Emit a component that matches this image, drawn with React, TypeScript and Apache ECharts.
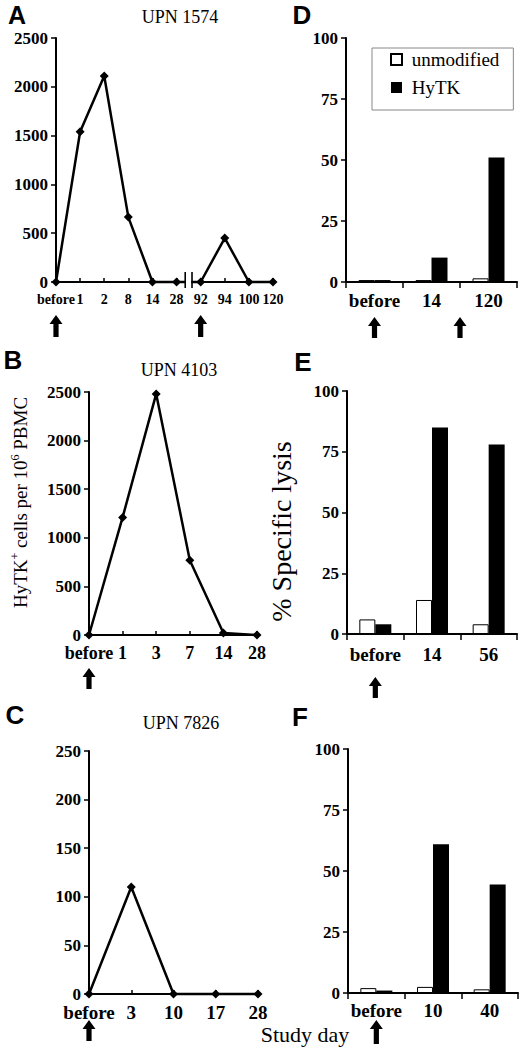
import React, { useEffect, useRef } from 'react';
import * as echarts from 'echarts';

// ---- data ----
const daysA = ['before', '1', '2', '8', '14', '28', '92', '94', '100', '120'];
const cellsA = [0, 1540, 2110, 665, 0, 0, 0, 450, 0, 0];
const daysB = ['before', '1', '3', '7', '14', '28'];
const cellsB = [0, 1210, 2480, 770, 20, 0];
const daysC = ['before', '3', '10', '17', '28'];
const cellsC = [0, 110, 0, 0, 0];

const daysD = ['before', '14', '120'];
const unmodD = [0.8, 0.8, 1.5];
const hytkD = [0.8, 10, 51];
const daysE = ['before', '14', '56'];
const unmodE = [6, 14, 4];
const hytkE = [4, 85, 78];
const daysF = ['before', '10', '40'];
const unmodF = [2, 2.5, 1.5];
const hytkF = [1, 61, 44.5];

// infusion arrows (category index positions; .5 = between two categories)
const arrowsA = [0, 6];
const arrowsB = [0];
const arrowsC = [0];
const arrowsD = [0, 1.5];
const arrowsE = [0];
const arrowsF = [0];

const serif = "'Liberation Serif', 'Times New Roman', serif";
const sans = "'Liberation Sans', Arial, sans-serif";

export default function App() {
  const ref = useRef<HTMLDivElement>(null);
  useEffect(() => {
    document.body.style.margin = '0';
    const chart = echarts.init(ref.current!, null, { renderer: 'svg' });

    const grids = [
      { left: 56, top: 38, width: 217, height: 244 },
      { left: 89, top: 392, width: 168, height: 243 },
      { left: 89, top: 751, width: 169, height: 243 },
      { left: 346, top: 38, width: 171, height: 244 },
      { left: 347, top: 391, width: 170, height: 243 },
      { left: 348, top: 749, width: 170, height: 244 },
    ];

    const lineX = (g: number, data: string[], fs: number, margin: number) => ({
      type: 'category', gridIndex: g, data, boundaryGap: false,
      axisLine: { lineStyle: { color: '#000', width: 2 } },
      axisTick: { show: true, inside: true, length: 4, lineStyle: { color: '#000', width: 1.5 } },
      axisLabel: { interval: 0, color: '#000', fontFamily: serif, fontWeight: 'bold', fontSize: fs, margin },
      splitLine: { show: false },
    });
    const barX = (g: number, data: string[], fs: number, margin: number) => ({
      type: 'category', gridIndex: g, data, boundaryGap: true,
      axisLine: { lineStyle: { color: '#000', width: 2 } },
      axisTick: { show: true, inside: false, length: 6, alignWithLabel: false, lineStyle: { color: '#000', width: 1.5 } },
      axisLabel: { interval: 0, color: '#000', fontFamily: serif, fontWeight: 'bold', fontSize: fs, margin },
      splitLine: { show: false },
    });
    const valY = (g: number, max: number, interval: number, fs: number, extra: any = {}) => ({
      type: 'value', gridIndex: g, min: 0, max, interval,
      axisLine: { show: true, lineStyle: { color: '#000', width: 2 } },
      axisTick: { show: true, inside: false, length: 5, lineStyle: { color: '#000', width: 1.5 } },
      axisLabel: {
        color: '#000', fontFamily: serif, fontWeight: 'bold', fontSize: fs, margin: 8,
        formatter: (v: number) => String(v),
      },
      splitLine: { show: false },
      ...extra,
    });

    const lineS = (g: number, data: number[]) => ({
      type: 'line', xAxisIndex: g, yAxisIndex: g, data, clip: false,
      symbol: 'diamond', symbolSize: 9, silent: true,
      lineStyle: { color: '#000', width: 2.5 }, itemStyle: { color: '#000' }, z: 3,
    });
    const barS = (g: number, name: string, data: number[]) => ({
      type: 'bar', name, xAxisIndex: g, yAxisIndex: g, data, barWidth: 16, barGap: '0%', silent: true,
      itemStyle: name === 'HyTK'
        ? { color: '#000' }
        : { color: '#fff', borderColor: '#000', borderWidth: 1 },
    });

    chart.setOption({
      animation: false,
      backgroundColor: '#fff',
      grid: grids,
      legend: {
        data: ['unmodified', 'HyTK'], orient: 'vertical', left: 372, top: 48,
        itemWidth: 11, itemHeight: 11, itemGap: 9, icon: 'rect', selectedMode: false,
        padding: [2, 14, 13, 18], borderColor: '#888', borderWidth: 1,
        formatter: (n: string) => ' ' + n,
        textStyle: { fontFamily: serif, fontSize: 19, color: '#000', lineHeight: 18 },
      },
      xAxis: [
        lineX(0, daysA, 14, 10),
        lineX(1, daysB, 18, 9),
        lineX(2, daysC, 19, 9),
        barX(3, daysD, 19, 9),
        barX(4, daysE, 19, 11),
        barX(5, daysF, 19, 8),
      ],
      yAxis: [
        valY(0, 2500, 500, 17),
        valY(1, 2500, 500, 17, {
          name: 'HyTK{sup|+} cells per 10{sup|6} PBMC', nameLocation: 'middle', nameRotate: 90, nameGap: 58,
          nameTextStyle: {
            fontFamily: serif, fontSize: 19, color: '#000', lineHeight: 22, padding: [0, 0, 0, 22],
            rich: { sup: { fontFamily: serif, fontSize: 12, lineHeight: 12, verticalAlign: 'top', color: '#000' } },
          },
        }),
        valY(2, 250, 50, 17),
        valY(3, 100, 25, 17),
        valY(4, 100, 25, 17, {
          name: '% Specific lysis', nameLocation: 'middle', nameRotate: 90, nameGap: 52,
          nameTextStyle: { fontFamily: serif, fontSize: 28, color: '#000', padding: [0, 38, 0, 0] },
        }),
        valY(5, 100, 25, 17),
      ],
      series: [
        lineS(0, cellsA), lineS(1, cellsB), lineS(2, cellsC),
        barS(3, 'unmodified', unmodD), barS(3, 'HyTK', hytkD),
        barS(4, 'unmodified', unmodE), barS(4, 'HyTK', hytkE),
        barS(5, 'unmodified', unmodF), barS(5, 'HyTK', hytkF),
      ],
    });

    const px = (g: number, idx: number): number[] => {
      const lo = Math.floor(idx), hi = Math.ceil(idx);
      const a = chart.convertToPixel({ gridIndex: g } as any, [lo, 0]) as number[];
      const b = chart.convertToPixel({ gridIndex: g } as any, [hi, 0]) as number[];
      const t = idx - lo;
      return [a[0] + (b[0] - a[0]) * t, a[1]];
    };

    const arrow = (x: number, y: number, h: number) => ({
      type: 'polygon', z: 100, silent: true,
      shape: { points: [[x, y], [x + 6.5, y + 9], [x + 2.6, y + 9], [x + 2.6, y + h], [x - 2.6, y + h], [x - 2.6, y + 9], [x - 6.5, y + 9]] },
      style: { fill: '#000' },
    });
    const txt = (text: string, x: number, y: number, size: number, family: string, weight = 'normal') => ({
      type: 'text', x, y, z: 100, silent: true,
      style: { text, fill: '#000', fontSize: size, fontFamily: family, fontWeight: weight, align: 'center', verticalAlign: 'middle' },
    });

    const arrowSets: [number, number[], number, number][] = [
      [0, arrowsA, 33, 22], [1, arrowsB, 33, 21], [2, arrowsC, 26, 21],
      [3, arrowsD, 35, 21], [4, arrowsE, 43, 21], [5, arrowsF, 27, 24],
    ];
    const arrows: any[] = [];
    arrowSets.forEach(([g, list, off, h]) => {
      list.forEach((i) => {
        const p = px(g, i);
        arrows.push(arrow(p[0], p[1] + off, h));
      });
    });

    // axis break in panel A between "28" and "92"
    const p28 = px(0, 5), p92 = px(0, 6);
    const mid = (p28[0] + p92[0]) / 2, y0 = p28[1];
    const brk = [
      { type: 'rect', z: 100, silent: true, shape: { x: mid - 2.6, y: y0 - 4, width: 5.2, height: 8 }, style: { fill: '#fff' } },
      { type: 'line', z: 101, silent: true, shape: { x1: mid - 3.4, y1: y0 - 10, x2: mid - 3.4, y2: y0 + 6 }, style: { stroke: '#000', lineWidth: 1.6 } },
      { type: 'line', z: 101, silent: true, shape: { x1: mid + 3.4, y1: y0 - 10, x2: mid + 3.4, y2: y0 + 6 }, style: { stroke: '#000', lineWidth: 1.6 } },
    ];

    const labels = [
      txt('A', 17, 15, 25, sans, 'bold'),
      txt('B', 13, 360, 26, sans, 'bold'),
      txt('C', 15, 715, 26, sans, 'bold'),
      txt('D', 302, 15, 26, sans, 'bold'),
      txt('E', 303, 362, 26, sans, 'bold'),
      txt('F', 300, 717, 26, sans, 'bold'),
      txt('UPN 1574', 180, 17, 18, serif),
      txt('UPN 4103', 179, 370, 18, serif),
      txt('UPN 7826', 181, 723, 18, serif),
      txt('Study day', 305, 1034, 22, serif),
    ];

    chart.setOption({ graphic: [...labels, ...brk, ...arrows] });

    return () => chart.dispose();
  }, []);
  return <div ref={ref} style={{ position: 'absolute', left: 0, top: 0, width: 520, height: 1057 }} />;
}
